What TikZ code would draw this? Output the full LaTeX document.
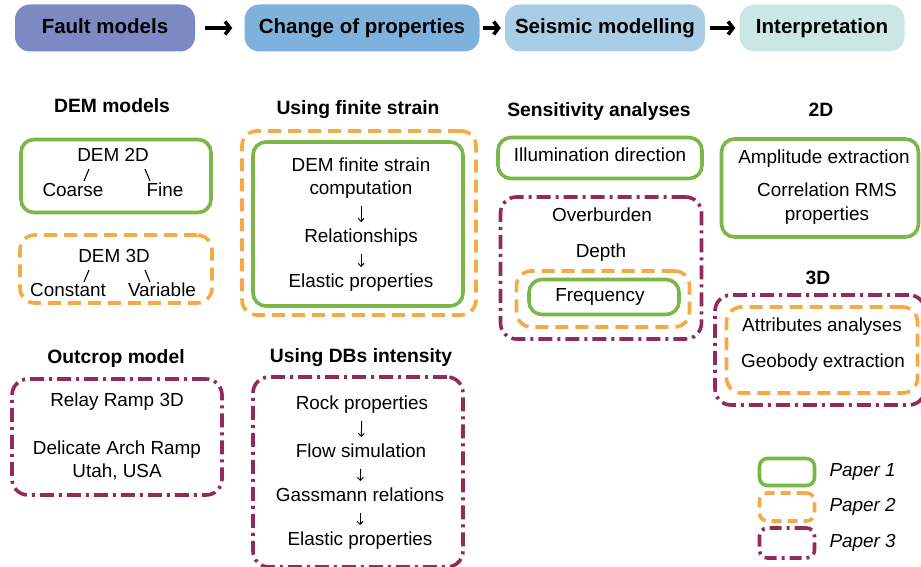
\documentclass[tikz,border=0pt]{standalone}
\usepackage{fontspec}
\setmainfont{Liberation Sans}
\usetikzlibrary{positioning,arrows.meta}
\definecolor{paperone}{HTML}{7AB648}
\definecolor{papertwo}{HTML}{F6A947}
\definecolor{paperthree}{HTML}{922A5A}
\definecolor{stepa}{HTML}{7C89C3}
\definecolor{stepb}{HTML}{7FB1DD}
\definecolor{stepc}{HTML}{A9CDE4}
\definecolor{stepd}{HTML}{CBE7E5}
\tikzstyle{stage} = [rectangle, rounded corners=15pt, minimum height=47pt,
                  text height=15pt, text depth=4.5pt,
                  font=\fontsize{20.5}{24}\selectfont\bfseries]
\tikzstyle{head} = [font=\fontsize{19.3}{22}\selectfont\bfseries, text height=14pt, text depth=4pt]
\tikzstyle{txt} = [font=\fontsize{18.9}{22}\selectfont, inner sep=1pt, text height=13.6pt, text depth=4pt]
\tikzstyle{pone} = [rectangle, draw=paperone, line width=3.6pt, rounded corners=13pt, inner sep=0pt]
\tikzstyle{ptwo} = [rectangle, draw=papertwo, line width=3.6pt, rounded corners=15pt, inner sep=0pt,
                  dash pattern=on 13pt off 7pt]
\tikzstyle{pthree} = [rectangle, draw=paperthree, line width=3.6pt, rounded corners=16pt, inner sep=0pt,
                  dash pattern=on 14pt off 5pt on 3pt off 5pt]
\tikzstyle{flow} = [draw, -{Straight Barb[length=3pt,width=6pt]}, line width=0.9pt,
                  shorten <=6pt, shorten >=6pt]
\tikzstyle{split} = [draw, line width=1.1pt]
\tikzstyle{stageline} = [draw, -{Straight Barb[length=5pt,width=13pt]}, line width=3.5pt]

\begin{document}
\begin{tikzpicture}[x=1pt, y=-1pt]
        \useasboundingbox (0,0) rectangle (921,567);
        % workflow stages
        \node [stage, fill=stepa, minimum width=180pt] (fault) at (105,28) {Fault models};
        \node [stage, fill=stepb, minimum width=235pt] (change) at (362,28) {Change of properties};
        \node [stage, fill=stepc, minimum width=200pt] (seismic) at (605,28) {Seismic modelling};
        \node [stage, fill=stepd, minimum width=165pt] (interp) at (822,28) {Interpretation};
        \draw [stageline, shorten <=10pt, shorten >=12pt] (fault) -- (change);
        \draw [stageline, shorten <=3pt, shorten >=4pt] (change) -- (seismic);
        \draw [stageline, shorten <=5pt, shorten >=4pt] (seismic) -- (interp);

        % fault models
        \node [head] (demh) at (112,108) {DEM models};
        \node [pone, minimum width=190pt, minimum height=73pt] (dem2dbox) at (116,176) {};
        \node [txt] (dem2d) at (113,157) {DEM 2D};
        \node [txt] (coarse) at (73,192) {Coarse};
        \node [txt] (fine) at (165,192) {Fine};
        \draw [split] (dem2d.south) ++(-24,2) -- ++(-5,12);
        \draw [split] (dem2d.south) ++(32,2) -- ++(5,12);
        \node [ptwo, minimum width=192pt, minimum height=68pt] (dem3dbox) at (116,269) {};
        \node [txt] (dem3d) at (114,258) {DEM 3D};
        \node [txt] (constant) at (68,292) {Constant};
        \node [txt] (variable) at (162,292) {Variable};
        \draw [split] (dem3d.south) ++(-25,2) -- ++(-5,12);
        \draw [split] (dem3d.south) ++(31,2) -- ++(5,12);

        \node [head] (outh) at (116,358) {Outcrop model};
        \node [pthree, minimum width=210pt, minimum height=116pt] (outbox) at (117,437) {};
        \node [txt] (relay) at (117,402) {Relay Ramp 3D};
        \node [txt] (arch) at (117,450) {Delicate Arch Ramp};
        \node [txt] (utah) at (117,473) {Utah, USA};

        % change of properties
        \node [head] (strainh) at (358,110) {Using finite strain};
        \node [ptwo, minimum width=234pt, minimum height=184pt] (strainout) at (359,223) {};
        \node [pone, minimum width=210pt, minimum height=164pt] (strainin) at (358,224) {};
        \node [txt] (finite) at (361,167) {DEM finite strain};
        \node [txt] (comp) at (361,190) {computation};
        \node [txt] (rel) at (361,238) {Relationships};
        \node [txt] (elastic) at (361,283) {Elastic properties};
        \draw [flow] (comp) -- (rel);
        \draw [flow] (rel) -- (elastic);

        \node [head] (dbsh) at (361,357) {Using DBs intensity};
        \node [pthree, minimum width=210pt, minimum height=190pt] (dbsbox) at (358,472) {};
        \node [txt] (rock) at (362,405) {Rock properties};
        \node [txt] (flowsim) at (361,453) {Flow simulation};
        \node [txt] (gass) at (360,497) {Gassmann relations};
        \node [txt] (elasticb) at (360,541) {Elastic properties};
        \draw [flow] (rock) -- (flowsim);
        \draw [flow] (flowsim) -- (gass);
        \draw [flow] (gass) -- (elasticb);

        % seismic modelling
        \node [head] (sensh) at (599,112) {Sensitivity analyses};
        \node [pone, minimum width=204pt, minimum height=41pt] (illumbox) at (600,158) {};
        \node [txt] (illum) at (600,157) {Illumination direction};
        \node [pthree, minimum width=201pt, minimum height=142pt] (sensbox) at (601,268) {};
        \node [txt] (over) at (602,217) {Overburden};
        \node [txt] (depth) at (601,253) {Depth};
        \node [ptwo, minimum width=173pt, minimum height=56pt] (freqout) at (603,299) {};
        \node [pone, minimum width=150pt, minimum height=35pt] (freqin) at (604,297) {};
        \node [txt] (freq) at (600,297) {Frequency};

        % interpretation
        \node [head] (twodh) at (821,112) {2D};
        \node [pone, minimum width=197pt, minimum height=98pt] (twodbox) at (820,188) {};
        \node [txt] (ampl) at (824,159) {Amplitude extraction};
        \node [txt] (corr) at (827,192) {Correlation RMS};
        \node [txt] (props) at (827,216) {properties};
        \node [head] (threedh) at (818,279) {3D};
        \node [pthree, minimum width=210pt, minimum height=110pt] (threedout) at (820,350) {};
        \node [ptwo, minimum width=191pt, minimum height=86pt] (threedin) at (822,350) {};
        \node [txt] (attr) at (822,327) {Attributes analyses};
        \node [txt] (geo) at (823,363) {Geobody extraction};

        % legend
        \node [pone, rounded corners=8pt, minimum width=55pt, minimum height=27pt] (leg1) at (787,472) {};
        \node [ptwo, rounded corners=8pt, dash pattern=on 10pt off 6pt, minimum width=55pt, minimum height=28pt] (leg2) at (787,507) {};
        \node [pthree, rounded corners=8pt, dash pattern=on 12pt off 5pt on 3pt off 5pt, minimum width=55pt, minimum height=30pt] (leg3) at (787,543) {};
        \node [txt, font=\fontsize{18.9}{22}\selectfont\itshape, right=12pt of leg1] (p1) {Paper 1};
        \node [txt, font=\fontsize{18.9}{22}\selectfont\itshape, right=12pt of leg2] (p2) {Paper 2};
        \node [txt, font=\fontsize{18.9}{22}\selectfont\itshape, right=12pt of leg3] (p3) {Paper 3};
\end{tikzpicture}
\end{document}
